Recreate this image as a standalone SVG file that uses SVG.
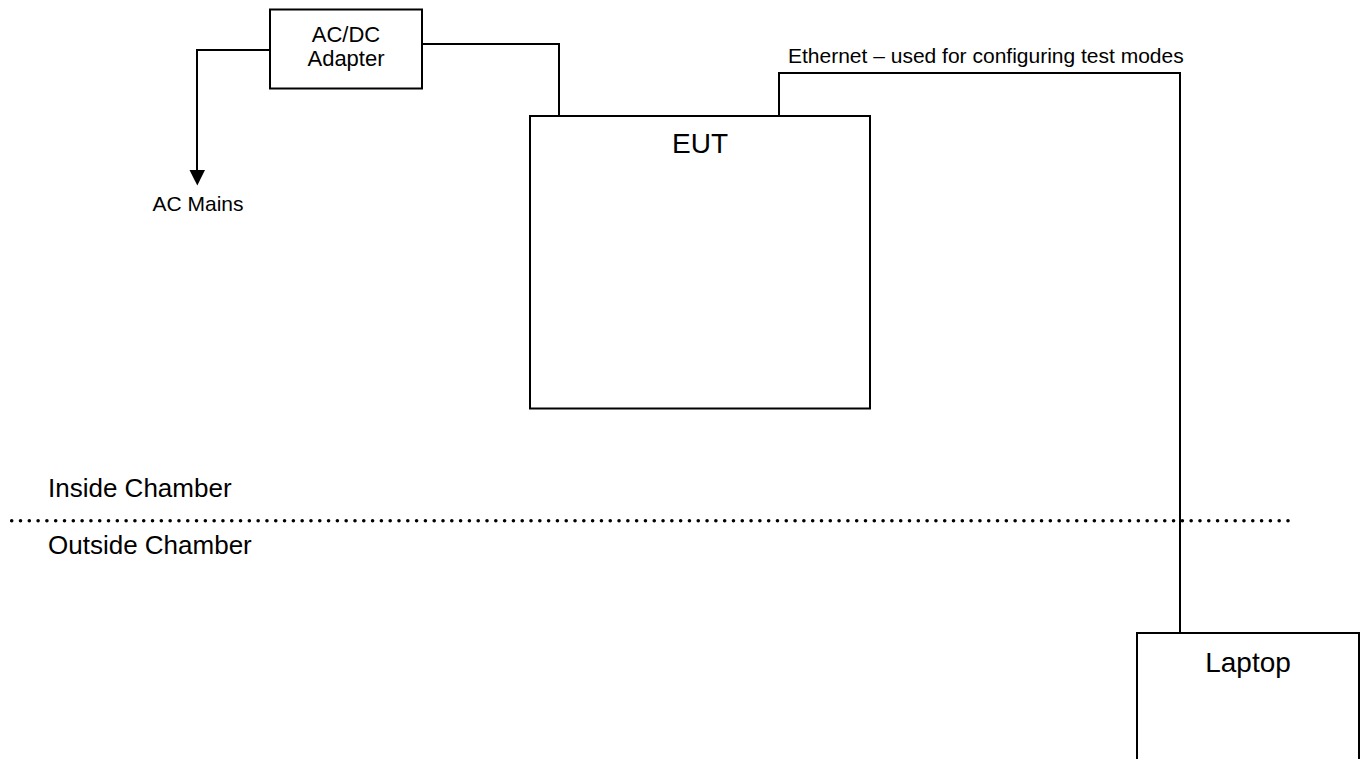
<svg xmlns="http://www.w3.org/2000/svg" width="1364" height="759" viewBox="0 0 1364 759">
<style>
.box{fill:#fff;stroke:#000;stroke-width:2}
.ln{fill:none;stroke:#000;stroke-width:2}
text{font-family:"Liberation Sans",Arial,sans-serif;fill:#000}
</style>
<rect width="1364" height="759" fill="#fff"/>
<g id="connectors">
<polyline class="ln" points="270,50 197,50 197,172"/>
<polygon points="189.5,170 205,170 197.3,185.5" fill="#000"/>
<polyline class="ln" points="422,44 559,44 559,116"/>
<polyline class="ln" points="779,116 779,73 1180,73 1180,633"/>
</g>
<g id="adapter">
<rect class="box" x="270" y="9.5" width="152" height="79"/>
<text x="346" y="42" font-size="22" text-anchor="middle">AC/DC</text>
<text x="346" y="66" font-size="22" text-anchor="middle">Adapter</text>
</g>
<g id="ac-mains">
<text x="198" y="211" font-size="21" text-anchor="middle">AC Mains</text>
</g>
<g id="eut">
<rect class="box" x="530" y="116" width="340" height="292.5"/>
<text x="700" y="153" font-size="28" text-anchor="middle">EUT</text>
</g>
<g id="ethernet-label">
<text x="788" y="63" font-size="21">Ethernet – used for configuring test modes</text>
</g>
<g id="chamber">
<text x="48" y="497" font-size="26">Inside Chamber</text>
<line x1="11.7" y1="520.7" x2="1288" y2="520.7" stroke="#000" stroke-width="3.6" stroke-linecap="round" stroke-dasharray="0 8.802"/>
<text x="48" y="553.5" font-size="26">Outside Chamber</text>
</g>
<g id="laptop">
<rect class="box" x="1137" y="633" width="222" height="160"/>
<text x="1248" y="672" font-size="28" text-anchor="middle">Laptop</text>
</g>
</svg>
